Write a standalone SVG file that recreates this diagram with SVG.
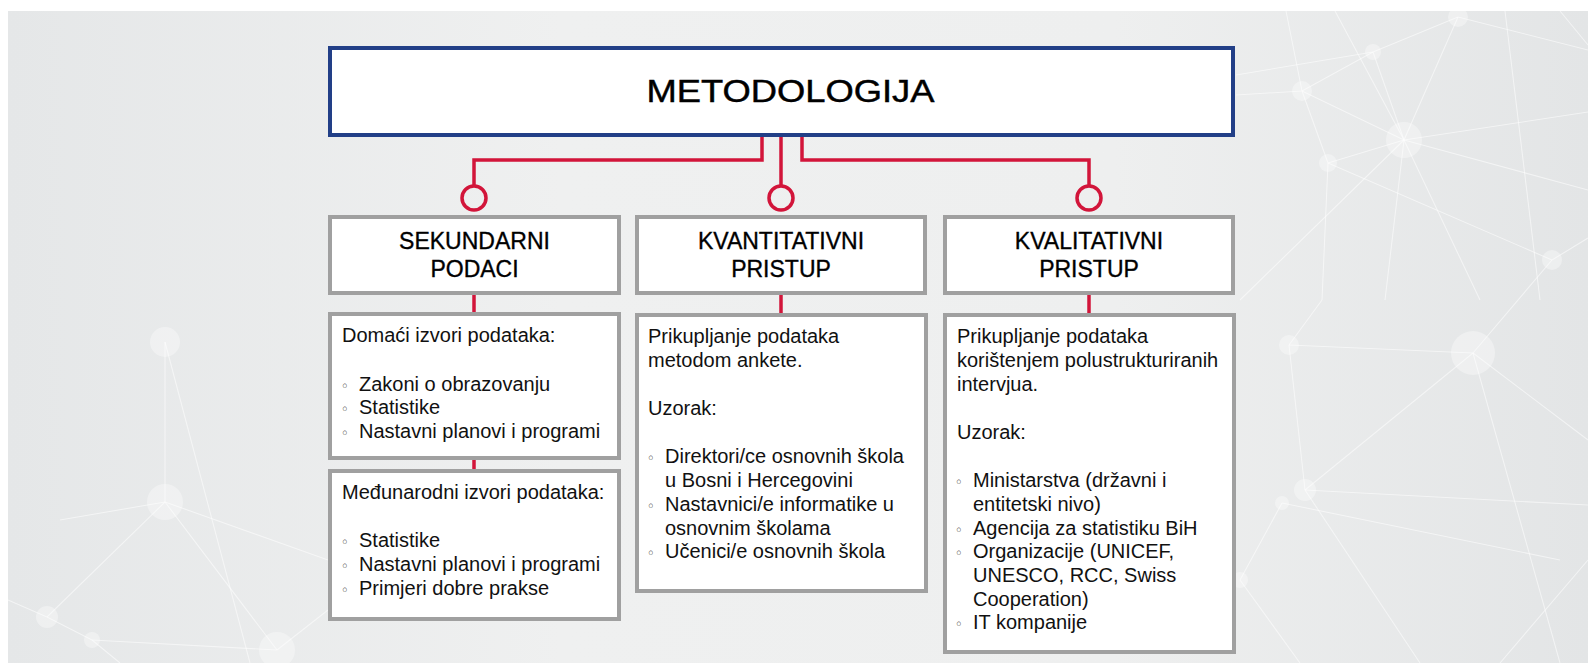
<svg xmlns="http://www.w3.org/2000/svg" width="1588" height="663" viewBox="0 0 1588 663">
  <defs>
    <linearGradient id="bg" x1="0" y1="0" x2="1" y2="0">
      <stop offset="0" stop-color="#e5e7e8"/>
      <stop offset="0.35" stop-color="#eff0f0"/>
      <stop offset="0.7" stop-color="#eeefef"/>
      <stop offset="1" stop-color="#e3e5e6"/>
    </linearGradient>
    <style>
      .net line { stroke: #ffffff; stroke-width: 1.1; opacity: 0.55; }
      .net circle { fill: #ffffff; opacity: 0.35; }
      .hdr { fill: #ffffff; stroke: #a0a0a0; stroke-width: 4; }
      .box { fill: #ffffff; stroke: #a0a0a0; stroke-width: 4; }
      .top { fill: #ffffff; stroke: #223f87; stroke-width: 4; }
      .title { font-family: "Liberation Sans", Arial, sans-serif; font-size: 31px; fill: #000000; stroke: #000000; stroke-width: 0.45; text-anchor: middle; }
      .htxt { font-family: "Liberation Sans", Arial, sans-serif; font-size: 23px; fill: #000000; stroke: #000000; stroke-width: 0.35; text-anchor: middle; }
      .txt { font-family: "Liberation Sans", Arial, sans-serif; font-size: 20px; fill: #111111; }
      .bul { font-family: "DejaVu Sans", sans-serif; font-size: 14px; fill: #333333; text-anchor: middle; }
      .con { fill: none; stroke: #d2153a; stroke-width: 3.5; }
    </style>
  </defs>

  <rect x="0" y="0" width="1588" height="663" fill="#ffffff"/>
  <rect x="8" y="11" width="1580" height="652" fill="url(#bg)"/>

  <g class="net">
    <line x1="1286" y1="11" x2="1302" y2="91"/>
    <line x1="1302" y1="91" x2="1373" y2="52"/>
    <line x1="1373" y1="52" x2="1458" y2="17"/>
    <line x1="1302" y1="91" x2="1404" y2="140"/>
    <line x1="1373" y1="52" x2="1404" y2="140"/>
    <line x1="1458" y1="17" x2="1404" y2="140"/>
    <line x1="1404" y1="140" x2="1328" y2="163"/>
    <line x1="1328" y1="163" x2="1302" y2="91"/>
    <line x1="1404" y1="140" x2="1588" y2="112"/>
    <line x1="1404" y1="140" x2="1588" y2="190"/>
    <line x1="1328" y1="163" x2="1552" y2="260"/>
    <line x1="1552" y1="260" x2="1588" y2="238"/>
    <line x1="1236" y1="95" x2="1302" y2="91"/>
    <line x1="1236" y1="75" x2="1373" y2="52"/>
    <line x1="1328" y1="163" x2="1322" y2="300"/>
    <line x1="1404" y1="140" x2="1385" y2="300"/>
    <line x1="1404" y1="140" x2="1480" y2="300"/>
    <line x1="1404" y1="140" x2="1240" y2="300"/>
    <line x1="1335" y1="11" x2="1404" y2="140"/>
    <line x1="1505" y1="11" x2="1540" y2="300"/>
    <line x1="1458" y1="17" x2="1588" y2="50"/>
    <line x1="1560" y1="11" x2="1588" y2="45"/>
    <line x1="1289" y1="345" x2="1473" y2="353"/>
    <line x1="1289" y1="345" x2="1305" y2="490"/>
    <line x1="1473" y1="353" x2="1305" y2="490"/>
    <line x1="1473" y1="353" x2="1588" y2="440"/>
    <line x1="1305" y1="490" x2="1588" y2="505"/>
    <line x1="1282" y1="503" x2="1240" y2="580"/>
    <line x1="1305" y1="490" x2="1420" y2="663"/>
    <line x1="1240" y1="580" x2="1300" y2="663"/>
    <line x1="1282" y1="503" x2="1560" y2="560"/>
    <line x1="1322" y1="300" x2="1289" y2="345"/>
    <line x1="1552" y1="260" x2="1473" y2="353"/>
    <line x1="1473" y1="353" x2="1560" y2="663"/>
    <line x1="1588" y1="560" x2="1500" y2="663"/>
    <line x1="165" y1="342" x2="165" y2="502"/>
    <line x1="165" y1="342" x2="250" y2="663"/>
    <line x1="165" y1="502" x2="47" y2="617"/>
    <line x1="165" y1="502" x2="277" y2="650"/>
    <line x1="165" y1="502" x2="328" y2="560"/>
    <line x1="47" y1="617" x2="92" y2="640"/>
    <line x1="92" y1="640" x2="277" y2="650"/>
    <line x1="8" y1="600" x2="47" y2="617"/>
    <line x1="92" y1="640" x2="120" y2="663"/>
    <line x1="277" y1="650" x2="328" y2="610"/>
    <line x1="60" y1="520" x2="165" y2="502"/>
    <circle cx="1458" cy="17" r="10"/>
    <circle cx="1373" cy="52" r="8"/>
    <circle cx="1302" cy="91" r="10"/>
    <circle cx="1404" cy="140" r="18"/>
    <circle cx="1328" cy="163" r="9"/>
    <circle cx="1552" cy="260" r="10"/>
    <circle cx="1289" cy="345" r="10"/>
    <circle cx="1473" cy="353" r="22"/>
    <circle cx="1305" cy="490" r="11"/>
    <circle cx="1282" cy="503" r="7"/>
    <circle cx="1240" cy="580" r="8"/>
    <circle cx="165" cy="342" r="15"/>
    <circle cx="165" cy="502" r="18"/>
    <circle cx="47" cy="617" r="11"/>
    <circle cx="92" cy="640" r="8"/>
    <circle cx="277" cy="650" r="18"/>
  </g>

  <g id="connectors">
    <path class="con" d="M762 137 V160 H474 V186"/>
    <path class="con" d="M781 137 V186"/>
    <path class="con" d="M802 137 V160 H1089 V186"/>
    <circle class="con" cx="474" cy="198" r="12"/>
    <circle class="con" cx="781" cy="198" r="12"/>
    <circle class="con" cx="1089" cy="198" r="12"/>
    <path class="con" d="M474 295 V312"/>
    <path class="con" d="M474 460 V469"/>
    <path class="con" d="M781 295 V313"/>
    <path class="con" d="M1089 295 V313"/>
  </g>

  <g id="metodologija">
    <rect class="top" x="330" y="48" width="903" height="87"/>
    <text class="title" x="790.5" y="102" textLength="288" lengthAdjust="spacingAndGlyphs">METODOLOGIJA</text>
  </g>

  <g id="sekundarni">
    <rect class="hdr" x="330" y="217" width="289" height="76"/>
    <text class="htxt" x="474.5" y="249">SEKUNDARNI</text>
    <text class="htxt" x="474.5" y="277">PODACI</text>
  </g>

  <g id="kvantitativni">
    <rect class="hdr" x="637" y="217" width="288" height="76"/>
    <text class="htxt" x="781" y="249">KVANTITATIVNI</text>
    <text class="htxt" x="781" y="277">PRISTUP</text>
  </g>

  <g id="kvalitativni">
    <rect class="hdr" x="945" y="217" width="288" height="76"/>
    <text class="htxt" x="1089" y="249">KVALITATIVNI</text>
    <text class="htxt" x="1089" y="277">PRISTUP</text>
  </g>

  <g id="domaci">
    <rect class="box" x="330" y="314" width="289" height="144"/>
    <text class="txt" x="342" y="342">Domaći izvori podataka:</text>
    <text class="bul" x="345" y="390.5">◦</text>
    <text class="txt" x="359" y="390.5">Zakoni o obrazovanju</text>
    <text class="bul" x="345" y="414">◦</text>
    <text class="txt" x="359" y="414">Statistike</text>
    <text class="bul" x="345" y="437.5">◦</text>
    <text class="txt" x="359" y="437.5">Nastavni planovi i programi</text>
  </g>

  <g id="medunarodni">
    <rect class="box" x="330" y="471" width="289" height="148"/>
    <text class="txt" x="342" y="499">Međunarodni izvori podataka:</text>
    <text class="bul" x="345" y="547">◦</text>
    <text class="txt" x="359" y="547">Statistike</text>
    <text class="bul" x="345" y="571">◦</text>
    <text class="txt" x="359" y="571">Nastavni planovi i programi</text>
    <text class="bul" x="345" y="595">◦</text>
    <text class="txt" x="359" y="595">Primjeri dobre prakse</text>
  </g>

  <g id="kvantitativni-opis">
    <rect class="box" x="637" y="315" width="289" height="276"/>
    <text class="txt" x="648" y="343">Prikupljanje podataka</text>
    <text class="txt" x="648" y="367">metodom ankete.</text>
    <text class="txt" x="648" y="415">Uzorak:</text>
    <text class="bul" x="651" y="463">◦</text>
    <text class="txt" x="665" y="463">Direktori/ce osnovnih škola</text>
    <text class="txt" x="665" y="487">u Bosni i Hercegovini</text>
    <text class="bul" x="651" y="510.5">◦</text>
    <text class="txt" x="665" y="510.5">Nastavnici/e informatike u</text>
    <text class="txt" x="665" y="534.5">osnovnim školama</text>
    <text class="bul" x="651" y="558">◦</text>
    <text class="txt" x="665" y="558">Učenici/e osnovnih škola</text>
  </g>

  <g id="kvalitativni-opis">
    <rect class="box" x="945" y="315" width="289" height="337"/>
    <text class="txt" x="957" y="343">Prikupljanje podataka</text>
    <text class="txt" x="957" y="367">korištenjem polustrukturiranih</text>
    <text class="txt" x="957" y="391">intervjua.</text>
    <text class="txt" x="957" y="438.5">Uzorak:</text>
    <text class="bul" x="959" y="487">◦</text>
    <text class="txt" x="973" y="487">Ministarstva (državni i</text>
    <text class="txt" x="973" y="510.5">entitetski nivo)</text>
    <text class="bul" x="959" y="534.5">◦</text>
    <text class="txt" x="973" y="534.5">Agencija za statistiku BiH</text>
    <text class="bul" x="959" y="558">◦</text>
    <text class="txt" x="973" y="558">Organizacije (UNICEF,</text>
    <text class="txt" x="973" y="582">UNESCO, RCC, Swiss</text>
    <text class="txt" x="973" y="605.5">Cooperation)</text>
    <text class="bul" x="959" y="629">◦</text>
    <text class="txt" x="973" y="629">IT kompanije</text>
  </g>
</svg>
